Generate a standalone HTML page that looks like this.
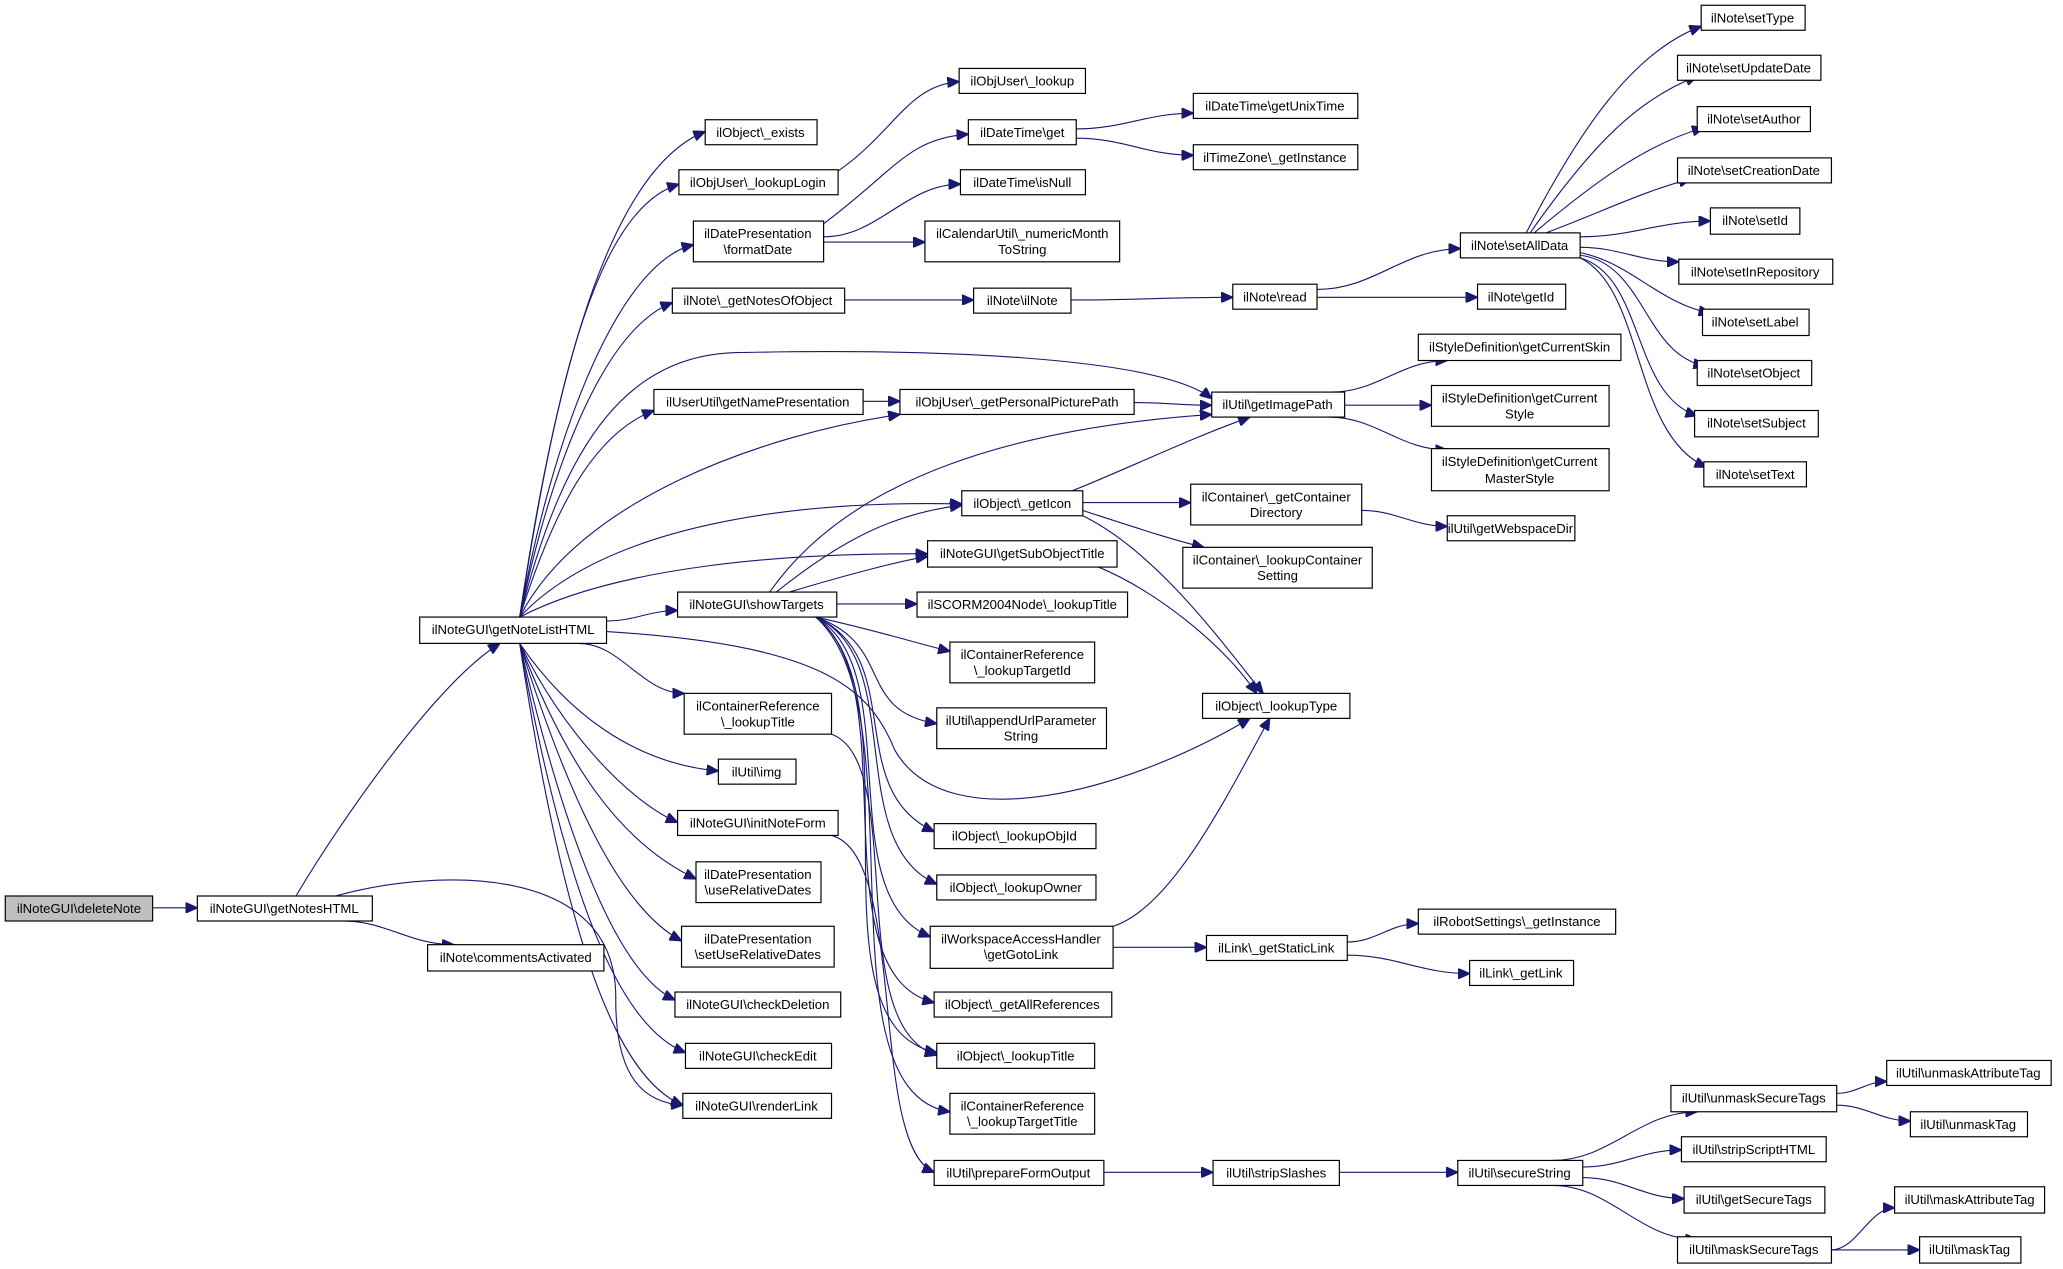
<!DOCTYPE html>
<html><head><meta charset="utf-8"><style>
html,body{margin:0;padding:0;background:#fff;}
svg{display:block;}
text{font-family:"Liberation Sans",sans-serif;font-size:10px;fill:#000;text-anchor:middle;}
rect{fill:#fff;stroke:#000;stroke-width:0.9;}
path.e{fill:none;stroke:#191970;stroke-width:0.85;}
</style></head><body>
<svg id="s" width="2063" height="1269" viewBox="0 0 1568 964.5" xmlns="http://www.w3.org/2000/svg">
<defs><marker id="a" markerUnits="userSpaceOnUse" markerWidth="10" markerHeight="8" refX="9" refY="4" orient="auto"><path d="M0,0 L9,4 L0,8 z" fill="#191970" stroke="#191970"/></marker></defs>
<g id="edges"></g>
<g id="nodes">
<rect x="4" y="681" width="112" height="19" style="fill:#bfbfbf"/><text x="60" y="694">ilNoteGUI\deleteNote</text>
<rect x="150" y="681" width="133" height="19"/><text x="216" y="694">ilNoteGUI\getNotesHTML</text>
<rect x="325" y="718" width="134" height="20"/><text x="392" y="731">ilNote\commentsActivated</text>
<rect x="319" y="469" width="142" height="20"/><text x="390" y="482">ilNoteGUI\getNoteListHTML</text>
<rect x="536" y="91" width="85" height="19"/><text x="578" y="104">ilObject\_exists</text>
<rect x="516" y="129" width="121" height="19"/><text x="576" y="142">ilObjUser\_lookupLogin</text>
<rect x="527" y="168" width="99" height="31"/><text x="576" y="181">ilDatePresentation</text><text x="576" y="193">\formatDate</text>
<rect x="511" y="219" width="131" height="19"/><text x="576" y="232">ilNote\_getNotesOfObject</text>
<rect x="497" y="296" width="159" height="19"/><text x="576" y="309">ilUserUtil\getNamePresentation</text>
<rect x="515" y="450" width="121" height="19"/><text x="575" y="463">ilNoteGUI\showTargets</text>
<rect x="520" y="527" width="112" height="31"/><text x="576" y="540">ilContainerReference</text><text x="576" y="552">\_lookupTitle</text>
<rect x="546" y="577" width="59" height="19"/><text x="575" y="590">ilUtil\img</text>
<rect x="515" y="616" width="122" height="19"/><text x="576" y="629">ilNoteGUI\initNoteForm</text>
<rect x="529" y="655" width="95" height="31"/><text x="576" y="668">ilDatePresentation</text><text x="576" y="680">\useRelativeDates</text>
<rect x="518" y="704" width="116" height="31"/><text x="576" y="717">ilDatePresentation</text><text x="576" y="729">\setUseRelativeDates</text>
<rect x="513" y="754" width="126" height="19"/><text x="576" y="767">ilNoteGUI\checkDeletion</text>
<rect x="521" y="793" width="111" height="19"/><text x="576" y="806">ilNoteGUI\checkEdit</text>
<rect x="519" y="831" width="113" height="19"/><text x="575" y="844">ilNoteGUI\renderLink</text>
<rect x="729" y="52" width="96" height="19"/><text x="777" y="65">ilObjUser\_lookup</text>
<rect x="736" y="91" width="82" height="19"/><text x="777" y="104">ilDateTime\get</text>
<rect x="730" y="129" width="95" height="19"/><text x="777" y="142">ilDateTime\isNull</text>
<rect x="703" y="168" width="148" height="31"/><text x="777" y="181">ilCalendarUtil\_numericMonth</text><text x="777" y="193">ToString</text>
<rect x="740" y="219" width="74" height="19"/><text x="777" y="232">ilNote\ilNote</text>
<rect x="684" y="296" width="178" height="19"/><text x="773" y="309">ilObjUser\_getPersonalPicturePath</text>
<rect x="731" y="373" width="92" height="19"/><text x="777" y="386">ilObject\_getIcon</text>
<rect x="705" y="411" width="144" height="20"/><text x="777" y="424">ilNoteGUI\getSubObjectTitle</text>
<rect x="697" y="450" width="160" height="19"/><text x="777" y="463">ilSCORM2004Node\_lookupTitle</text>
<rect x="722" y="488" width="110" height="31"/><text x="777" y="501">ilContainerReference</text><text x="777" y="513">\_lookupTargetId</text>
<rect x="712" y="538" width="129" height="31"/><text x="776" y="551">ilUtil\appendUrlParameter</text><text x="776" y="563">String</text>
<rect x="710" y="626" width="123" height="19"/><text x="771" y="639">ilObject\_lookupObjId</text>
<rect x="712" y="665" width="121" height="19"/><text x="772" y="678">ilObject\_lookupOwner</text>
<rect x="707" y="704" width="139" height="32"/><text x="776" y="717">ilWorkspaceAccessHandler</text><text x="776" y="729">\getGotoLink</text>
<rect x="710" y="754" width="135" height="19"/><text x="777" y="767">ilObject\_getAllReferences</text>
<rect x="712" y="793" width="120" height="19"/><text x="772" y="806">ilObject\_lookupTitle</text>
<rect x="722" y="831" width="110" height="31"/><text x="777" y="844">ilContainerReference</text><text x="777" y="856">\_lookupTargetTitle</text>
<rect x="710" y="882" width="129" height="19"/><text x="774" y="895">ilUtil\prepareFormOutput</text>
<rect x="907" y="71" width="125" height="19"/><text x="969" y="84">ilDateTime\getUnixTime</text>
<rect x="907" y="110" width="125" height="19"/><text x="969" y="123">ilTimeZone\_getInstance</text>
<rect x="937" y="216" width="64" height="19"/><text x="969" y="229">ilNote\read</text>
<rect x="921" y="298" width="101" height="19"/><text x="971" y="311">ilUtil\getImagePath</text>
<rect x="905" y="368" width="130" height="31"/><text x="970" y="381">ilContainer\_getContainer</text><text x="970" y="393">Directory</text>
<rect x="899" y="416" width="144" height="31"/><text x="971" y="429">ilContainer\_lookupContainer</text><text x="971" y="441">Setting</text>
<rect x="914" y="527" width="112" height="19"/><text x="970" y="540">ilObject\_lookupType</text>
<rect x="917" y="711" width="107" height="19"/><text x="970" y="724">ilLink\_getStaticLink</text>
<rect x="922" y="882" width="96" height="19"/><text x="970" y="895">ilUtil\stripSlashes</text>
<rect x="1110" y="177" width="91" height="19"/><text x="1155" y="190">ilNote\setAllData</text>
<rect x="1123" y="216" width="67" height="19"/><text x="1156" y="229">ilNote\getId</text>
<rect x="1078" y="254" width="154" height="20"/><text x="1155" y="267">ilStyleDefinition\getCurrentSkin</text>
<rect x="1088" y="293" width="135" height="31"/><text x="1155" y="306">ilStyleDefinition\getCurrent</text><text x="1155" y="318">Style</text>
<rect x="1088" y="341" width="135" height="32"/><text x="1155" y="354">ilStyleDefinition\getCurrent</text><text x="1155" y="367">MasterStyle</text>
<rect x="1100" y="392" width="97" height="19"/><text x="1148" y="405">ilUtil\getWebspaceDir</text>
<rect x="1078" y="691" width="150" height="19"/><text x="1153" y="704">ilRobotSettings\_getInstance</text>
<rect x="1117" y="730" width="79" height="19"/><text x="1156" y="743">ilLink\_getLink</text>
<rect x="1108" y="882" width="95" height="19"/><text x="1155" y="895">ilUtil\secureString</text>
<rect x="1293" y="4" width="79" height="19"/><text x="1332" y="17">ilNote\setType</text>
<rect x="1275" y="42" width="109" height="19"/><text x="1329" y="55">ilNote\setUpdateDate</text>
<rect x="1290" y="81" width="86" height="19"/><text x="1333" y="94">ilNote\setAuthor</text>
<rect x="1275" y="120" width="117" height="19"/><text x="1333" y="133">ilNote\setCreationDate</text>
<rect x="1300" y="158" width="68" height="20"/><text x="1334" y="171">ilNote\setId</text>
<rect x="1276" y="197" width="117" height="19"/><text x="1334" y="210">ilNote\setInRepository</text>
<rect x="1294" y="235" width="81" height="20"/><text x="1334" y="248">ilNote\setLabel</text>
<rect x="1290" y="274" width="87" height="19"/><text x="1333" y="287">ilNote\setObject</text>
<rect x="1288" y="312" width="94" height="20"/><text x="1335" y="325">ilNote\setSubject</text>
<rect x="1295" y="351" width="78" height="19"/><text x="1334" y="364">ilNote\setText</text>
<rect x="1270" y="825" width="126" height="20"/><text x="1333" y="838">ilUtil\unmaskSecureTags</text>
<rect x="1278" y="864" width="110" height="19"/><text x="1333" y="877">ilUtil\stripScriptHTML</text>
<rect x="1280" y="902" width="107" height="20"/><text x="1333" y="915">ilUtil\getSecureTags</text>
<rect x="1275" y="940" width="117" height="20"/><text x="1333" y="953">ilUtil\maskSecureTags</text>
<rect x="1434" y="806" width="125" height="19"/><text x="1496" y="819">ilUtil\unmaskAttributeTag</text>
<rect x="1452" y="845" width="89" height="19"/><text x="1496" y="858">ilUtil\unmaskTag</text>
<rect x="1440" y="902" width="114" height="20"/><text x="1497" y="915">ilUtil\maskAttributeTag</text>
<rect x="1459" y="940" width="77" height="20"/><text x="1497" y="953">ilUtil\maskTag</text>
</g>
</svg>
<script>
var E=[
[116,690,150,690],
[225,681,255,630,330,520,380,489],
[260,700,345,718],
[255,681,330,660,470,655,468,760,468,820,490,838,519,840],
[395,469,420,300,460,130,536,100],
[395,469,420,310,450,160,516,140],
[395,469,420,330,470,200,527,186],
[395,469,420,350,460,250,511,230],
[395,469,420,390,450,330,497,312],
[395,469,430,330,480,270,560,268,700,265,880,270,921,303],
[395,469,440,380,580,330,684,315],
[395,469,460,400,600,380,731,383],
[395,469,470,430,600,420,705,421],
[461,472,515,464],
[461,480,620,490,660,520,680,570,720,640,860,600,950,546],
[440,489,520,527],
[395,489,430,540,480,580,546,586],
[395,489,430,560,480,610,515,625],
[395,489,430,580,470,640,529,668],
[395,489,430,600,470,690,518,715],
[395,489,430,640,470,740,513,760],
[395,489,430,680,470,780,521,800],
[395,489,430,720,470,820,519,840],
[585,450,620,400,700,330,921,315],
[590,450,640,410,680,390,731,384],
[600,450,650,435,690,425,705,423],
[636,459,697,459],
[620,469,670,480,700,490,722,495],
[620,469,680,490,650,540,712,550],
[620,469,690,500,640,600,710,632],
[620,469,690,500,640,640,712,672],
[620,469,690,510,630,680,707,712],
[620,469,690,520,620,740,710,762],
[620,469,700,530,610,780,712,800],
[620,469,700,540,620,830,722,845],
[637,130,680,100,690,65,729,62],
[626,170,680,130,690,105,736,102],
[626,180,730,140],
[626,184,703,184],
[818,98,907,86],
[818,105,907,118],
[642,228,740,228],
[814,228,937,226],
[1001,220,1110,189],
[1001,226,1123,226],
[1160,177,1200,100,1240,40,1293,20],
[1163,177,1210,110,1245,75,1290,58],
[1166,177,1210,140,1250,110,1295,97],
[1175,177,1220,160,1250,145,1285,136],
[1201,180,1300,168],
[1201,188,1276,199],
[1201,192,1240,200,1260,230,1300,238],
[1201,194,1250,200,1250,270,1296,278],
[1201,196,1250,210,1240,300,1290,316],
[1201,196,1250,220,1240,330,1297,355],
[656,305,684,305],
[862,306,921,308],
[1012,298,1100,274],
[1022,308,1088,308],
[1010,317,1100,342],
[815,373,860,355,900,335,950,317],
[823,382,905,382],
[823,388,860,400,890,410,915,416],
[823,392,880,420,930,490,960,527],
[1035,388,1100,400],
[835,431,880,450,930,490,955,527],
[846,704,890,690,930,610,965,546],
[846,720,917,720],
[1024,716,1078,702],
[1024,726,1117,740],
[632,635,690,650,660,870,710,891],
[632,558,690,580,640,780,712,802],
[839,891,922,891],
[1018,891,1108,891],
[1180,882,1290,845],
[1203,887,1278,874],
[1203,895,1280,911],
[1180,901,1290,942],
[1396,831,1434,822],
[1396,840,1452,852],
[1392,950,1440,918],
[1392,950,1459,950]
];
var g=document.getElementById('edges'),h='';
E.forEach(function(e){var d;
if(e.length==4){var k=(e[2]-e[0])*0.4;d='M'+e[0]+','+e[1]+' C'+(e[0]+k)+','+e[1]+' '+(e[2]-k)+','+e[3]+' '+e[2]+','+e[3];}
else{d='M'+e[0]+','+e[1];for(var i=2;i<e.length;i+=6)d+=' C'+e.slice(i,i+6).join(' ');}
h+='<path class="e" d="'+d+'" marker-end="url(#a)"/>';});
g.innerHTML=h;
</script>
</body></html>
